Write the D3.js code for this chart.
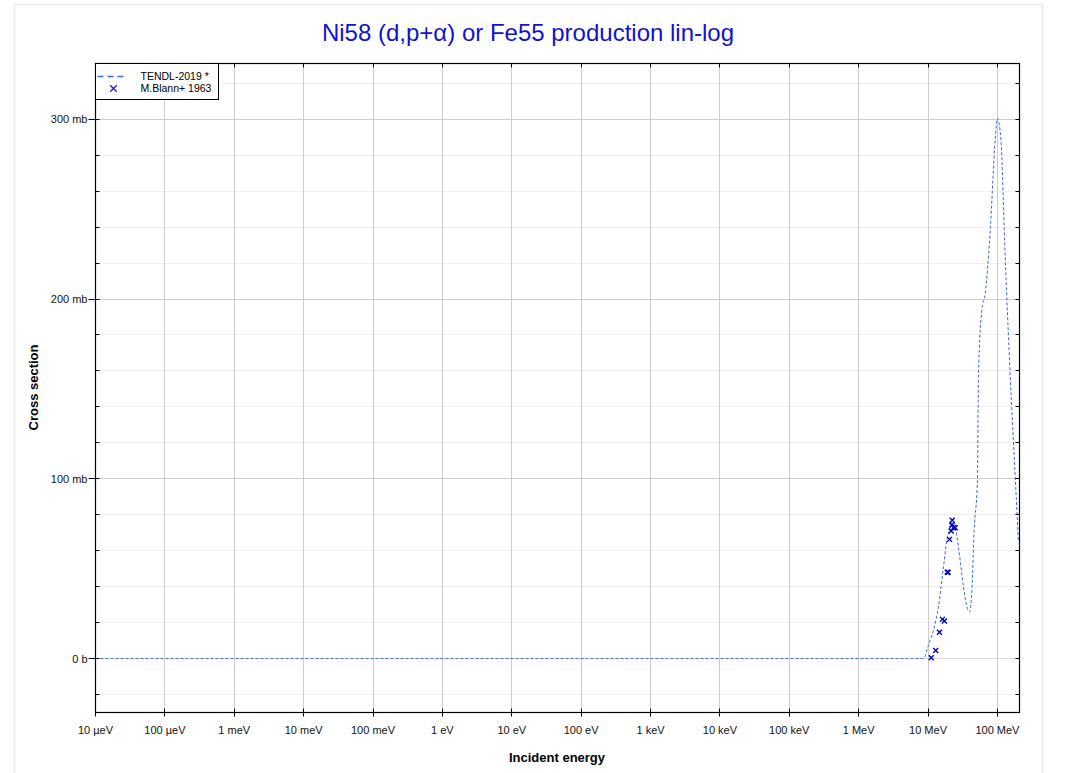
<!DOCTYPE html>
<html>
<head>
<meta charset="utf-8">
<script src="https://cdn.jsdelivr.net/npm/d3@7"></script>
<style>
    body { margin: 0; background: #fff; font-family: "Liberation Sans", Arial, sans-serif; }
    svg { display: block; }
</style>
</head>
<body>
<div id="chart"></div>
<script>

// TENDL-2019 evaluation, energy in eV, cross section in mb
const tendlEnergy = [1e-5, 1e-2, 1, 1e3, 1e6, 8.0e6, 8.6e6, 9.1e6, 9.8e6, 1.2e7, 1.41e7, 1.67e7, 1.87e7, 2.04e7,
    2.25e7, 2.46e7, 2.74e7, 3.24e7, 3.63e7, 3.95e7, 4.28e7, 4.62e7, 5.15e7, 5.33e7, 5.97e7, 6.67e7, 7.87e7,
    9.3e7, 1.0e8, 1.12e8, 1.295e8, 1.53e8, 1.8e8, 2.01e8];
const tendlXs = [0, 0, 0, 0, 0, 0, 0.1, 1.4, 5.7, 15.9, 28.8, 51, 66, 71.5,
    76, 73, 62, 40, 28.8, 26, 38, 71.5, 99, 157, 194, 203, 238,
    289, 300.5, 289, 223, 157, 102, 65];

// M.Blann+ 1963 measurements
const blannEnergy = [1.11e7, 1.29e7, 1.46e7, 1.61e7, 1.72e7, 1.89e7, 1.95e7, 2.04e7, 2.15e7, 2.2e7, 2.23e7, 2.32e7, 2.46e7];
const blannXs = [0.5, 4.5, 14.6, 21.8, 20.9, 48, 48, 66.3, 71, 74.3, 77, 72.8, 72.8];

const xTickValues = [1e-5, 1e-4, 1e-3, 1e-2, 1e-1, 1, 10, 100, 1e3, 1e4, 1e5, 1e6, 1e7, 1e8];
const xTickLabels = ["10 µeV", "100 µeV", "1 meV", "10 meV", "100 meV", "1 eV", "10 eV", "100 eV",
    "1 keV", "10 keV", "100 keV", "1 MeV", "10 MeV", "100 MeV"];
const yMajorTicks = [0, 100, 200, 300];
const yTickLabels = ["0 b", "100 mb", "200 mb", "300 mb"];
const seriesNames = ["TENDL-2019 *", "M.Blann+ 1963"];

const titleText = "Ni58 (d,p+α) or Fe55 production lin-log";

let width = 1067, height = 773;
let margin = {top: 63, right: 48, bottom: 61, left: 95};
let plotW = width - margin.left - margin.right;
let plotH = height - margin.top - margin.bottom;

let svg = d3.select("#chart").append("svg")
    .attr("width", width)
    .attr("height", height);

// outer light frame
svg.append("rect")
    .attr("x", 14.5).attr("y", 4.5)
    .attr("width", 1028).attr("height", 780)
    .attr("fill", "none")
    .attr("stroke", "#ebebeb")
    .attr("stroke-width", 1.5);

let x = d3.scaleLog()
    .domain([1e-5, 2.08e8])
    .range([0, plotW]);

let y = d3.scaleLinear()
    .domain([-30, 331])
    .range([plotH, 0]);

let g = svg.append("g")
    .attr("transform", `translate(${margin.left + 0.5}, ${margin.top + 0.5})`);

g.append("clipPath").attr("id", "clip")
    .append("rect").attr("width", plotW).attr("height", plotH);

// minor horizontal grid every 20 mb
let yMinor = d3.range(-20, 331, 20).filter(d => d % 100 !== 0);
g.append("g").selectAll("line")
    .data(yMinor)
    .enter().append("line")
    .attr("x1", 0).attr("x2", plotW)
    .attr("y1", d => Math.round(y(d))).attr("y2", d => Math.round(y(d)))
    .attr("stroke", "#efefef");

// major grid
g.append("g").selectAll("line")
    .data(yMajorTicks)
    .enter().append("line")
    .attr("x1", 0).attr("x2", plotW)
    .attr("y1", d => Math.round(y(d))).attr("y2", d => Math.round(y(d)))
    .attr("stroke", d => d === 0 ? "#d8d8d8" : "#cccccc");

g.append("g").selectAll("line")
    .data(xTickValues)
    .enter().append("line")
    .attr("x1", d => Math.round(x(d))).attr("x2", d => Math.round(x(d)))
    .attr("y1", 0).attr("y2", plotH)
    .attr("stroke", "#cccccc");

// TENDL curve
let tendl = tendlEnergy.map((e, i) => ({e: e, v: tendlXs[i]}));
let line = d3.line()
    .x(d => x(d.e))
    .y(d => y(d.v))
    .curve(d3.curveMonotoneX);

g.append("path")
    .datum(tendl)
    .attr("clip-path", "url(#clip)")
    .attr("d", line)
    .attr("fill", "none")
    .attr("stroke", "#3d6ae6")
    .attr("stroke-width", 1)
    .attr("stroke-dasharray", "3,2");

// experimental points as crosses
let blann = blannEnergy.map((e, i) => ({e: e, v: blannXs[i]}));
let cross = d3.symbol().type(d3.symbolX).size(18);
g.append("g").selectAll("path")
    .data(blann)
    .enter().append("path")
    .attr("d", cross)
    .attr("transform", d => `translate(${x(d.e)}, ${y(d.v)})`)
    .attr("fill", "none")
    .attr("stroke", "#0000b4")
    .attr("stroke-width", 1.4);

// frame
g.append("rect")
    .attr("width", plotW).attr("height", plotH)
    .attr("fill", "none")
    .attr("stroke", "#000")
    .attr("stroke-width", 1.2);

// ticks
let yAll = d3.range(-20, 331, 20);
g.append("g").selectAll("line")
    .data(yAll)
    .enter().append("line")
    .attr("x1", d => d % 100 === 0 ? -7 : 0).attr("x2", 4)
    .attr("y1", d => Math.round(y(d))).attr("y2", d => Math.round(y(d)))
    .attr("stroke", "#000");

g.append("g").selectAll("line")
    .data(yAll)
    .enter().append("line")
    .attr("x1", plotW - 4).attr("x2", plotW)
    .attr("y1", d => Math.round(y(d))).attr("y2", d => Math.round(y(d)))
    .attr("stroke", "#000");

g.append("g").selectAll("line")
    .data(xTickValues)
    .enter().append("line")
    .attr("x1", d => Math.round(x(d))).attr("x2", d => Math.round(x(d)))
    .attr("y1", plotH - 4).attr("y2", plotH + 4)
    .attr("stroke", "#000");

g.append("g").selectAll("line")
    .data(xTickValues)
    .enter().append("line")
    .attr("x1", d => Math.round(x(d))).attr("x2", d => Math.round(x(d)))
    .attr("y1", 0).attr("y2", 4)
    .attr("stroke", "#000");

// tick labels
g.append("g").selectAll("text")
    .data(xTickValues)
    .enter().append("text")
    .attr("x", d => x(d))
    .attr("y", plotH + 21)
    .attr("text-anchor", "middle")
    .style("font-size", "11px")
    .attr("fill", "#111")
    .text((d, i) => xTickLabels[i]);

g.append("g").selectAll("text")
    .data(yMajorTicks)
    .enter().append("text")
    .attr("x", -8)
    .attr("y", d => y(d) + 4)
    .attr("text-anchor", "end")
    .style("font-size", "11px")
    .attr("fill", "#111")
    .text((d, i) => yTickLabels[i]);

// axis titles
svg.append("text")
    .text("Incident energy")
    .attr("x", margin.left + plotW / 2)
    .attr("y", 762)
    .attr("text-anchor", "middle")
    .style("font-size", "13px")
    .style("font-weight", "bold");

svg.append("text")
    .text("Cross section")
    .attr("transform", `translate(38, ${margin.top + plotH / 2}) rotate(-90)`)
    .attr("text-anchor", "middle")
    .style("font-size", "13px")
    .style("font-weight", "bold");

// title
svg.append("text")
    .text(titleText)
    .attr("x", 528)
    .attr("y", 41)
    .attr("text-anchor", "middle")
    .style("font-size", "24px")
    .attr("fill", "#1212cc");

// legend
let legend = g.append("g");
legend.append("rect")
    .attr("width", 123).attr("height", 36)
    .attr("fill", "#fff")
    .attr("stroke", "#000");

legend.append("line")
    .attr("x1", 2).attr("x2", 31)
    .attr("y1", 13).attr("y2", 13)
    .attr("stroke", "#3d6ae6")
    .attr("stroke-width", 1.5)
    .attr("stroke-dasharray", "6,4");

legend.append("path")
    .attr("d", d3.symbol().type(d3.symbolX).size(30))
    .attr("transform", "translate(18, 25)")
    .attr("fill", "none")
    .attr("stroke", "#1a1aee")
    .attr("stroke-width", 1.3);

legend.selectAll("text.item")
    .data(seriesNames)
    .enter().append("text")
    .attr("class", "item")
    .attr("x", 45)
    .attr("y", (d, i) => 16 + i * 12)
    .style("font-size", "10.5px")
    .text(d => d);

</script>
</body>
</html>
